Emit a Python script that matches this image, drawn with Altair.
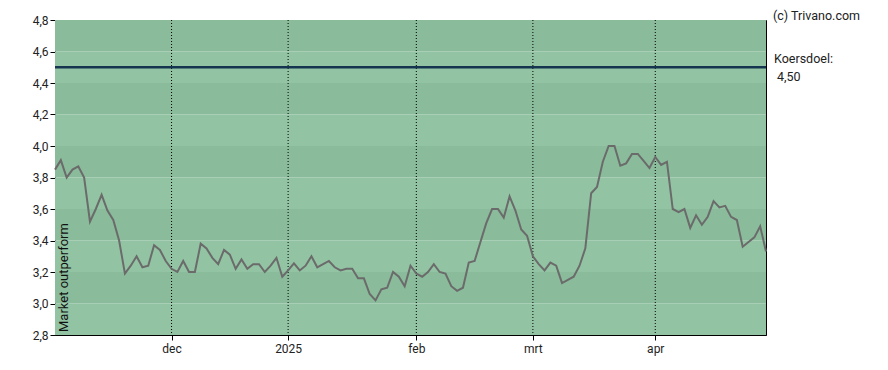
import altair as alt
import pandas as pd

# ---- data ----
values = [3.85, 3.91, 3.80, 3.85, 3.87, 3.80, 3.52, 3.60, 3.69, 3.59,
          3.53, 3.40, 3.19, 3.24, 3.30, 3.23, 3.24, 3.37, 3.34, 3.27,
          3.22, 3.20, 3.27, 3.20, 3.20, 3.38, 3.35, 3.29, 3.25, 3.34,
          3.31, 3.22, 3.28, 3.22, 3.25, 3.25, 3.20, 3.24, 3.29, 3.17,
          3.21, 3.255, 3.21, 3.24, 3.30, 3.23, 3.25, 3.27, 3.23, 3.21,
          3.22, 3.22, 3.16, 3.16, 3.06, 3.02, 3.09, 3.10, 3.20, 3.17,
          3.11, 3.24, 3.19, 3.17, 3.20, 3.25, 3.20, 3.19, 3.11, 3.08,
          3.10, 3.26, 3.27, 3.39, 3.51, 3.60, 3.60, 3.545, 3.68, 3.59,
          3.47, 3.43, 3.30, 3.25, 3.21, 3.26, 3.24, 3.13, 3.15, 3.17,
          3.24, 3.35, 3.70, 3.74, 3.90, 4.00, 4.00, 3.875, 3.89, 3.95,
          3.95, 3.905, 3.86, 3.93, 3.88, 3.90, 3.60, 3.58, 3.60, 3.48,
          3.56, 3.50, 3.55, 3.65, 3.61, 3.62, 3.55, 3.53, 3.36, 3.39,
          3.42, 3.49, 3.33]
day_index = list(range(len(values)))

tick_idx = [20, 40, 62, 82, 103]
tick_lbl = ["dec", "2025", "feb", "mrt", "apr"]

y_ticks = [2.8, 3.0, 3.2, 3.4, 3.6, 3.8, 4.0, 4.2, 4.4, 4.6, 4.8]
band_lo = [2.8, 3.0, 3.2, 3.4, 3.6, 3.8, 4.0, 4.2, 4.4, 4.6]
band_hi = [3.0, 3.2, 3.4, 3.6, 3.8, 4.0, 4.2, 4.4, 4.6, 4.8]
band_shade = ["light", "dark", "light", "dark", "light", "dark", "light", "dark", "light", "dark"]

target = 4.5
target_label = "4,50"

W, H = 711, 315
FONT = "Roboto"

line_df = pd.DataFrame({"i": day_index, "v": values})
band_df = pd.DataFrame({"lo": band_lo, "hi": band_hi, "shade": band_shade})
tick_df = pd.DataFrame({"i": tick_idx, "lbl": tick_lbl})
target_df = pd.DataFrame({"v": [target]})

label_expr = ""
for k, l in zip(tick_idx, tick_lbl):
    label_expr += f"datum.value == {k} ? '{l}' : "
label_expr += "''"

x_scale = alt.Scale(domain=[0, len(values) - 1], nice=False, zero=False)
y_scale = alt.Scale(domain=[2.8, 4.8], nice=False, zero=False)

y_axis = alt.Axis(values=y_ticks,
                  labelExpr="replace(format(datum.value, '.1f'), '.', ',')",
                  tickSize=5, tickColor="black", domainColor="black",
                  labelFont=FONT, labelFontSize=12, labelColor="#222",
                  labelPadding=2, grid=False, labelOverlap=False, tickCount=11)
x_axis = alt.Axis(values=tick_idx, labelExpr=label_expr, tickSize=5,
                  tickColor="black", domainColor="black", labelFont=FONT,
                  labelFontSize=12, labelColor="#222", labelPadding=3,
                  grid=False, labelOverlap=False)

bands = alt.Chart(band_df).mark_rect().encode(
    x=alt.value(0), x2=alt.value(W),
    y=alt.Y("lo:Q", scale=y_scale, axis=y_axis, title=None),
    y2="hi:Q",
    color=alt.Color("shade:N", scale=alt.Scale(domain=["light", "dark"],
                                               range=["#92c4a3", "#8abb9b"]),
                    legend=None),
)

vrules = alt.Chart(tick_df).mark_rule(color="black", strokeDash=[1, 2], strokeWidth=1).encode(
    x=alt.X("i:Q", scale=x_scale, axis=x_axis, title=None),
    y=alt.value(0), y2=alt.value(H),
)

hline = alt.Chart(target_df).mark_rule(color="#15344f", strokeWidth=2.5).encode(
    y=alt.Y("v:Q", scale=y_scale, axis=y_axis, title=None),
)

line = alt.Chart(line_df).mark_line(color="#6b6b6b", strokeWidth=2).encode(
    x=alt.X("i:Q", scale=x_scale, axis=x_axis, title=None),
    y=alt.Y("v:Q", scale=y_scale, axis=y_axis, title=None),
)

def txt(s, x, y, size=12.5):
    return alt.Chart(pd.DataFrame({"t": [s]})).mark_text(
        font=FONT, fontSize=size, color="#222", align="left", baseline="middle"
    ).encode(text="t:N", x=alt.value(x), y=alt.value(y))

ytitle = alt.Chart(pd.DataFrame({"t": ["Market outperform"]})).mark_text(
    font=FONT, fontSize=13, color="#111", align="left", baseline="top", angle=270
).encode(text="t:N", x=alt.value(3), y=alt.value(312))

copyright_t = txt("(c) Trivano.com", 718, -4)
koers_t = txt("Koersdoel:", 719, 39)
koers_v = txt(target_label, 722, 57)

chart = alt.layer(bands, vrules, hline, line, ytitle, copyright_t, koers_t, koers_v).properties(
    width=W, height=H,
    autosize=alt.AutoSizeParams(type="none"),
    padding={"left": 47, "top": 12, "right": 110, "bottom": 25},
).configure_view(stroke="black", strokeWidth=1)

chart.save("out.html", embed_options={"renderer": "svg", "actions": False})
